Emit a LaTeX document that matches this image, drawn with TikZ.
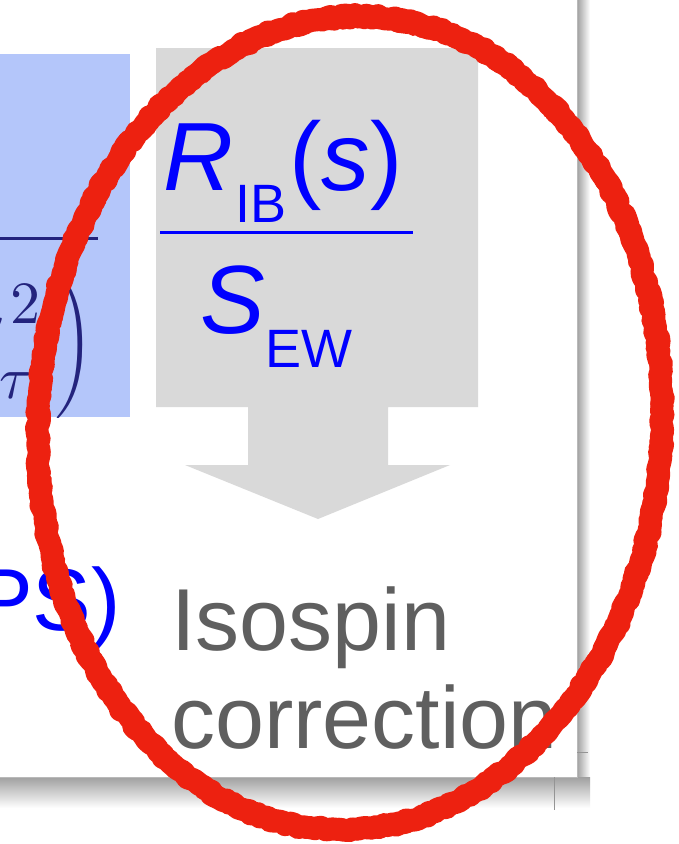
\documentclass[tikz,border=0pt]{standalone}
\usepackage{graphicx}
\usepackage{fontspec}
\setmainfont{Liberation Sans}
\usetikzlibrary{decorations.pathmorphing}
\definecolor{slideblue}{RGB}{180,198,250}
\definecolor{arrowgray}{RGB}{217,217,217}
\definecolor{navy}{RGB}{35,35,125}
\definecolor{txtgray}{RGB}{95,95,95}
\definecolor{pen}{RGB}{237,33,16}
\definecolor{shadowgray}{RGB}{160,160,160}
\definecolor{edgegray}{RGB}{185,185,185}
\definecolor{fblue}{RGB}{0,0,255}
\tikzset{
  txt/.style={inner sep=0pt, anchor=base west},
  bigtxt/.style={txt, font=\fontsize{88}{88}\selectfont},
  mainfrac/.style={txt, text=fblue, font=\fontsize{97}{97}\selectfont},
  subfrac/.style={txt, text=fblue, font=\fontsize{54}{54}\selectfont},
  penline/.style={draw=pen, line join=round, line cap=round, decorate,
     decoration={random steps, segment length=4pt, amplitude=1.6pt}},
}
\begin{document}
\begin{tikzpicture}[x=1pt,y=-1pt]
\useasboundingbox (0,0) rectangle (678,844);
\fill[white] (0,0) rectangle (678,844);
% slide shadow
\fill[left color=shadowgray, right color=white] (577,0) rectangle (590,790);
\fill[top color=shadowgray, bottom color=white] (0,777) rectangle (590,808);
\fill[white] (0,0) rectangle (577,777);
\draw[edgegray, line width=0.8pt] (577,0) -- (577,777) -- (0,777);
\draw[edgegray!80!black, line width=0.6pt] (554,777) -- (554,810);
\draw[edgegray!80!black, line width=0.6pt] (577,752) -- (588,752);
% blue box (partly shown)
\begin{scope}
  \clip (0,54) rectangle (130,417);
  \fill[slideblue] (0,54) rectangle (130,417);
  \draw[navy, line width=3pt] (0,238) -- (98,238);
  \node[navy, inner sep=0pt, anchor=base east] (m) at (6,333) {\scalebox{10}{$m$}};
  \node[navy, inner sep=0pt] (sup) at (25,304) {\scalebox{6}{$2$}};
  \node[navy, inner sep=0pt] (tau) at (16,386) {\scalebox{6}{$\tau$}};
  \node[navy, inner sep=0pt] (par) at (75,345) {\scalebox{4.9}{$\Bigg)$}};
\end{scope}
% gray block arrow
\fill[arrowgray] (156,48) -- (478,48) -- (478,407) -- (388,407) -- (388,465)
  -- (450,465) -- (318,519) -- (185,465) -- (248,465) -- (248,407) -- (156,407) -- cycle;
% fraction
\node[mainfrac] (R) at (163,190) {\itshape R};
\node[subfrac] (IB) at (235,222) {IB};
\node[mainfrac] (s) at (289,190) {(\itshape s\upshape)};
\draw[fblue, line width=3pt] (160,232) -- (413,232);
\node[mainfrac] (S) at (200,333) {\itshape S};
\node[subfrac] (EW) at (265,367) {EW};
% texts below
\node[bigtxt, anchor=base east, text=fblue] (ps) at (121,630) {PS)};
\node[bigtxt, text=txtgray] (iso) at (171,650) {Isospin};
\node[bigtxt, text=txtgray] (corr) at (171,748) {correction};
% red hand-drawn ellipse
\pgfmathsetseed{7}
\path[penline, line width=23pt] [rotate around={-3:(350,423)}] (350,423) ellipse [x radius=312pt, y radius=407pt];
\pgfmathsetseed{19}
\path[penline, line width=16pt, decoration={random steps, segment length=3pt, amplitude=3.5pt}] [rotate around={-3:(350,423)}] (350,424) ellipse [x radius=311pt, y radius=406pt];
\end{tikzpicture}
\end{document}
